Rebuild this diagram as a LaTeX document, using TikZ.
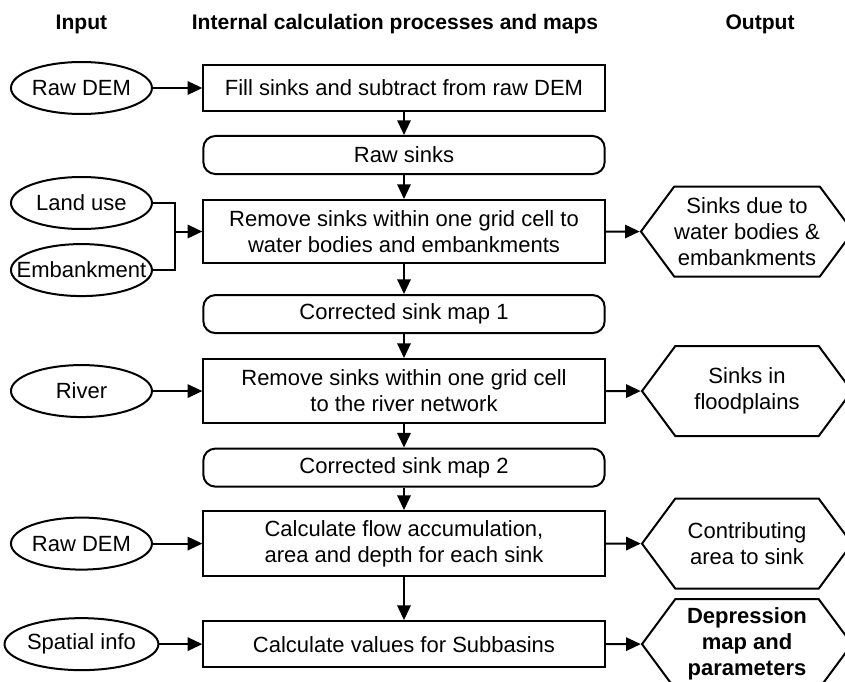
\documentclass[tikz,border=0pt]{standalone}
\usepackage{fontspec}
\setmainfont{Liberation Sans}
\usetikzlibrary{positioning,shapes,arrows.meta}

\begin{document}
\begin{tikzpicture}[font=\fontsize{16.5pt}{19.5pt}\selectfont, line width=1.5pt,
	proc/.style = {draw, rectangle, minimum width=301pt, minimum height=34.5pt, align=center},
	map/.style = {draw, rectangle, rounded corners=9pt, minimum width=301pt, minimum height=28.5pt},
	inp/.style = {draw, ellipse, minimum width=105.75pt, minimum height=39pt, inner sep=0pt},
	outp/.style = {draw, signal, signal from=nowhere, signal to=west and east, signal pointer angle=107, minimum width=157.5pt, minimum height=67.5pt, align=center, inner sep=0pt},
	head/.style = {font=\fontsize{15.8pt}{19pt}\selectfont\bfseries},
	arr/.style = {-{Triangle[length=11pt,width=10pt]}},
	node distance=50.25pt]
			\useasboundingbox (0,0) rectangle (633.75pt,-510.75pt);
			% internal processes and maps
			\node[proc] (fill) at (303pt,-66pt) {Fill sinks and subtract from raw DEM};
			\node[map] (raw) [below of=fill] {Raw sinks};
			\node[proc, minimum height=47.25pt, node distance=57.4pt] (rem1) [below of=raw] {Remove sinks within one grid cell to\\water bodies and embankments};
			\node[map, node distance=61.9pt] (cor1) [below of=rem1] {Corrected sink map 1};
			\node[proc, minimum height=48pt, node distance=57.75pt] (rem2) [below of=cor1] {Remove sinks within one grid cell\\to the river network};
			\node[map, node distance=57.4pt] (cor2) [below of=rem2] {Corrected sink map 2};
			\node[proc, minimum height=48.75pt, node distance=57pt] (flow) [below of=cor2] {Calculate flow accumulation,\\area and depth for each sink};
			\node[proc, node distance=75.4pt] (sub) [below of=flow] {Calculate values for Subbasins};
			% input
			\node[inp, node distance=241.9pt] (dem1) [left of=fill] {Raw DEM};
			\node[inp, node distance=241.9pt, yshift=21.4pt] (land) [left of=rem1] {Land use};
			\node[inp, node distance=241.9pt, yshift=-28.9pt, label=center:Embankment] (emb) [left of=rem1] {};
			\node[inp, node distance=241.9pt] (river) [left of=rem2] {River};
			\node[inp, node distance=241.9pt] (dem2) [left of=flow] {Raw DEM};
			\node[inp, node distance=241.9pt] (spat) [left of=sub] {Spatial info};
			% output
			\node[outp, node distance=257.25pt] (sinkwb) [right of=rem1] {Sinks due to\\water bodies \&\\embankments};
			\node[outp, node distance=257.25pt] (sinkfp) [right of=rem2] {Sinks in\\floodplains};
			\node[outp, node distance=257.25pt] (contr) [right of=flow] {Contributing\\area to sink};
			\node[outp, node distance=257.25pt] (depr) [right of=sub] {\textbf{Depression}\\\textbf{map and}\\\textbf{parameters}};
			% headings
			\node[head, node distance=48pt] (hin) [above of=dem1] {Input};
			\node[head, node distance=48pt, xshift=-6.75pt] (hmid) [above of=fill] {Internal calculation processes and maps};
			\node[head, node distance=273.75pt] (hout) [right of=hmid] {Output};
			\coordinate[left=20.25pt of rem1.west] (jn);
			\draw[arr] (dem1) -- (fill);
			\draw[arr] (fill) -- (raw);
			\draw[arr] (raw) -- (rem1);
			\draw (land.east) -| (jn) |- (emb.east);
			\draw[arr] (jn) -- (rem1);
			\draw[arr] (rem1) -- (sinkwb);
			\draw[arr] (rem1) -- (cor1);
			\draw[arr] (cor1) -- (rem2);
			\draw[arr] (river) -- (rem2);
			\draw[arr] (rem2) -- (sinkfp);
			\draw[arr] (rem2) -- (cor2);
			\draw[arr] (cor2) -- (flow);
			\draw[arr] (dem2) -- (flow);
			\draw[arr] (flow) -- (contr);
			\draw[arr] (flow) -- (sub);
			\draw[arr] (spat) -- (sub);
			\draw[arr] (sub) -- (depr);
		\end{tikzpicture}
\end{document}
